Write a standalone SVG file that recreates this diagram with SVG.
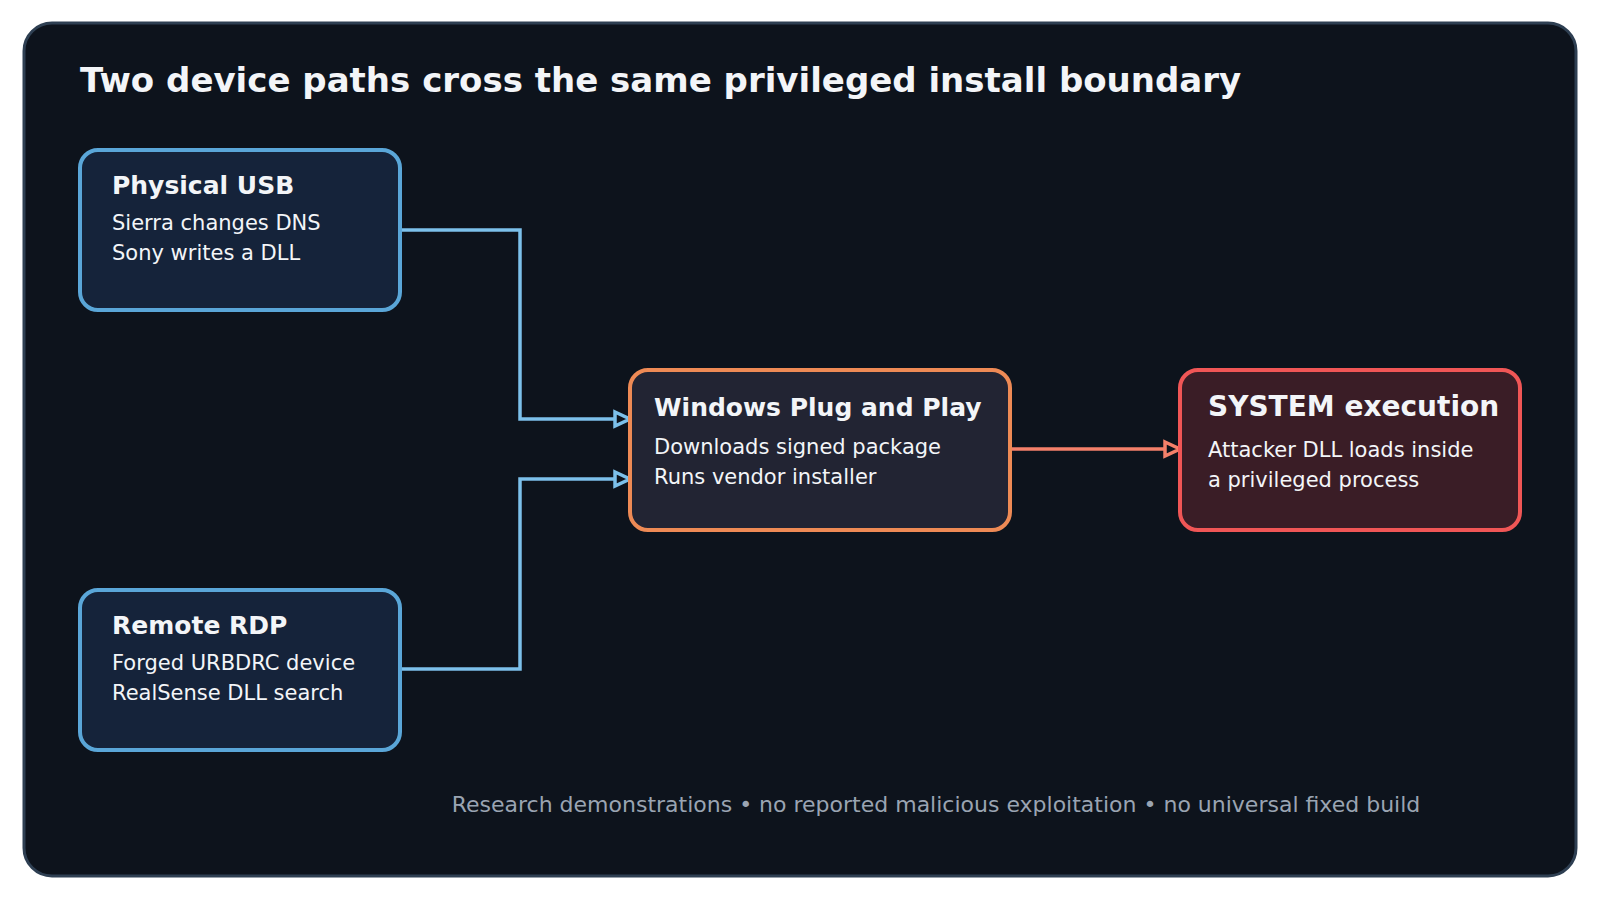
<svg xmlns="http://www.w3.org/2000/svg" width="1600" height="900" viewBox="0 0 1600 900">
<style>
text{font-family:"DejaVu Sans","Noto Sans",sans-serif;fill:#f3f5f8}
.t{font-size:25px;font-weight:bold}
.b{font-size:21px}
.blue{fill:none;stroke:#7cc0ea;stroke-width:3.5}
.or{fill:none;stroke:#f4806a;stroke-width:3.5}
.n{stroke-width:4}
</style>
<defs>
<marker id="ab" viewBox="0 0 20 20" refX="18" refY="10" markerWidth="20" markerHeight="20" markerUnits="userSpaceOnUse" orient="auto"><path d="M3,3 L18,10 L3,17 Z" fill="#0d131c" stroke="#7cc0ea" stroke-width="3.5"/></marker>
<marker id="ao" viewBox="0 0 20 20" refX="18" refY="10" markerWidth="20" markerHeight="20" markerUnits="userSpaceOnUse" orient="auto"><path d="M3,3 L18,10 L3,17 Z" fill="#0d131c" stroke="#f4806a" stroke-width="3.5"/></marker>
</defs>
<rect width="1600" height="900" fill="#ffffff"/>
<rect x="24" y="23" width="1552" height="853" rx="28" fill="#0d131c" stroke="#2e3f52" stroke-width="3"/>
<text x="80" y="92" style="font-size:34px;font-weight:bold">Two device paths cross the same privileged install boundary</text>
<g id="connectors">
<path class="blue" d="M400,230 H520 V419 H630" marker-end="url(#ab)"/>
<path class="blue" d="M400,669 H520 V479 H630" marker-end="url(#ab)"/>
<path class="or" d="M1010,449 H1180" marker-end="url(#ao)"/>
</g>
<g id="usb">
<rect class="n" x="80" y="150" width="320" height="160" rx="18" fill="#15233a" stroke="#5aa6d8"/>
<text x="112" y="194" class="t">Physical USB</text>
<text x="112" y="230" class="b">Sierra changes DNS</text>
<text x="112" y="260" class="b">Sony writes a DLL</text>
</g>
<g id="rdp">
<rect class="n" x="80" y="590" width="320" height="160" rx="18" fill="#15233a" stroke="#5aa6d8"/>
<text x="112" y="634" class="t">Remote RDP</text>
<text x="112" y="670" class="b">Forged URBDRC device</text>
<text x="112" y="700" class="b">RealSense DLL search</text>
</g>
<g id="pnp">
<rect class="n" x="630" y="370" width="380" height="160" rx="18" fill="#222433" stroke="#ee8a55"/>
<text x="654" y="416" class="t">Windows Plug and Play</text>
<text x="654" y="454" class="b">Downloads signed package</text>
<text x="654" y="484" class="b">Runs vendor installer</text>
</g>
<g id="system">
<rect class="n" x="1180" y="370" width="340" height="160" rx="18" fill="#3a1d26" stroke="#f05656"/>
<text x="1208" y="416" style="font-size:28px;font-weight:bold">SYSTEM execution</text>
<text x="1208" y="457" class="b">Attacker DLL loads inside</text>
<text x="1208" y="487" class="b">a privileged process</text>
</g>
<text x="936" y="812" text-anchor="middle" style="font-size:22px;fill:#9aa4b2">Research demonstrations • no reported malicious exploitation • no universal fixed build</text>
</svg>
